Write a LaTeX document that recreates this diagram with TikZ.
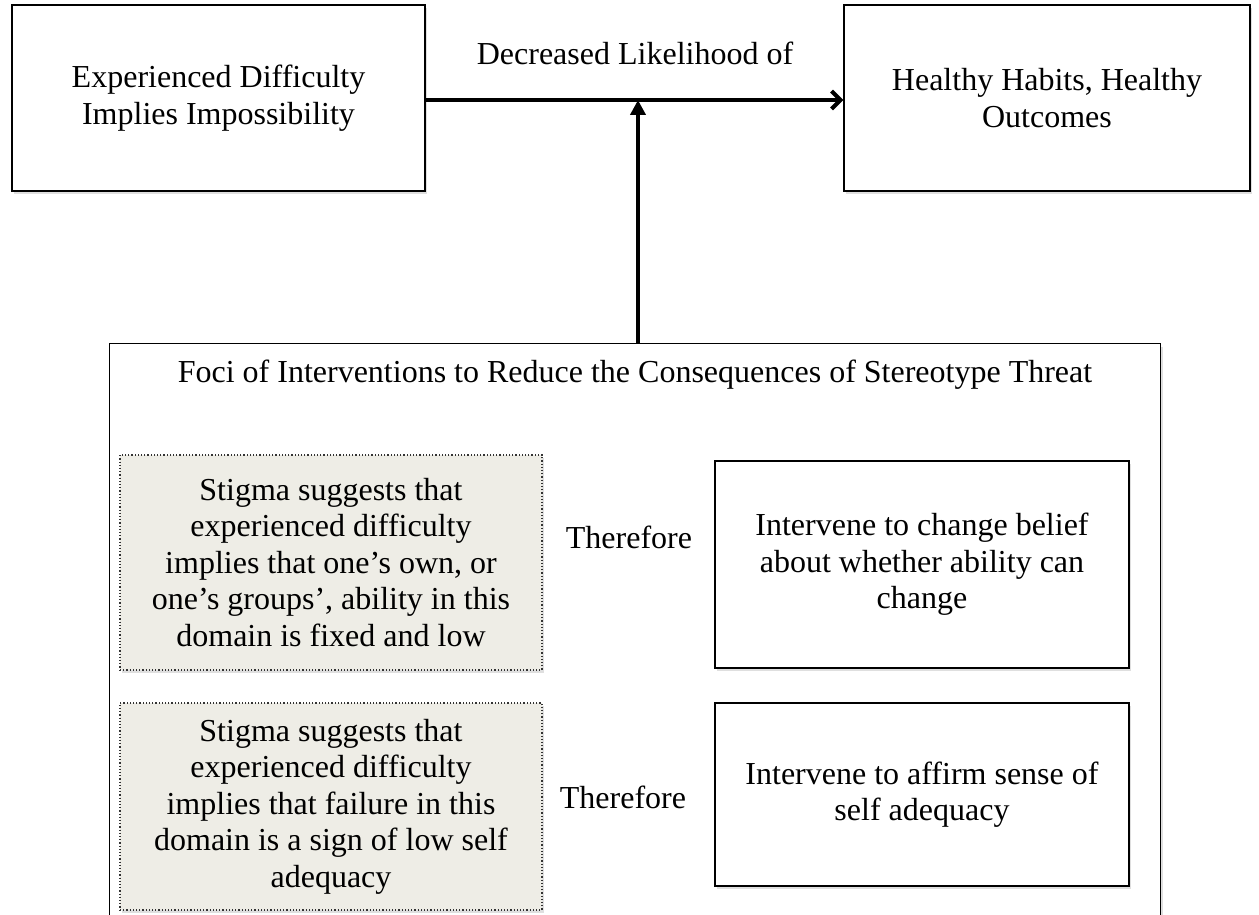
\documentclass[tikz,border=0pt]{standalone}
\usepackage{fontspec}
\setmainfont{Liberation Serif}
\usetikzlibrary{arrows.meta,shadows}
\definecolor{stigfill}{RGB}{238,237,230}
\tikzset{
  box/.style={draw=black, line width=1.3pt, fill=white, align=center, inner sep=0pt,
    drop shadow={opacity=0.25, shadow xshift=2pt, shadow yshift=-3pt}},
  stig/.style={draw=black!80, dotted, line width=1.2pt, fill=stigfill, align=center, inner sep=0pt,
    drop shadow={opacity=0.25, shadow xshift=2pt, shadow yshift=-3pt}},
  lbl/.style={align=center},
  bigarrow/.style={line width=4.5pt},
}
\begin{document}
\begin{tikzpicture}[x=1pt,y=-1pt, every node/.style={font=\fontsize{32}{36.5}\selectfont}]
\useasboundingbox (0,0) rectangle (1259,915);
\clip (0,0) rectangle (1259,915);
\node[box, minimum width=413pt, minimum height=186pt] (A) at (218.5,98) {Experienced Difficulty\\Implies Impossibility};
\node[box, minimum width=406pt, minimum height=186pt] (B) at (1047,98) {Healthy Habits, Healthy\\Outcomes};
\node[box, minimum width=1051pt, minimum height=620pt, anchor=north west, drop shadow={opacity=0}] (F) at (109,343) {};
\node[lbl] (T) at (635,375) {Foci of Interventions to Reduce the Consequences of Stereotype Threat};
\node[stig, minimum width=422pt, minimum height=215pt] (S1) at (331,562.5) {Stigma suggests that\\experienced difficulty\\implies that one’s own, or\\one’s groups’, ability in this\\domain is fixed and low};
\node[stig, minimum width=422pt, minimum height=207pt] (S2) at (331,806.5) {Stigma suggests that\\experienced difficulty\\implies that failure in this\\domain is a sign of low self\\adequacy};
\node[lbl] (R1) at (629,537) {Therefore};
\node[lbl] (R2) at (623,797) {Therefore};
\node[box, minimum width=414pt, minimum height=207pt] (I1) at (922,564.5) {Intervene to change belief\\about whether ability can\\change};
\node[box, minimum width=414pt, minimum height=183pt] (I2) at (922,794.5) {Intervene to affirm sense of\\self adequacy};
\coordinate (mid) at (638,100);
\node[lbl] (D) at (635,53) {Decreased Likelihood of};
\draw[bigarrow, -{Straight Barb[length=9pt,width=18pt,line width=4pt]}] (A.east |- mid) -- (B.west |- mid);
\draw[bigarrow, -{Triangle[length=15pt,width=15pt]}] (F.north -| mid) -- (mid);
\end{tikzpicture}
\end{document}
